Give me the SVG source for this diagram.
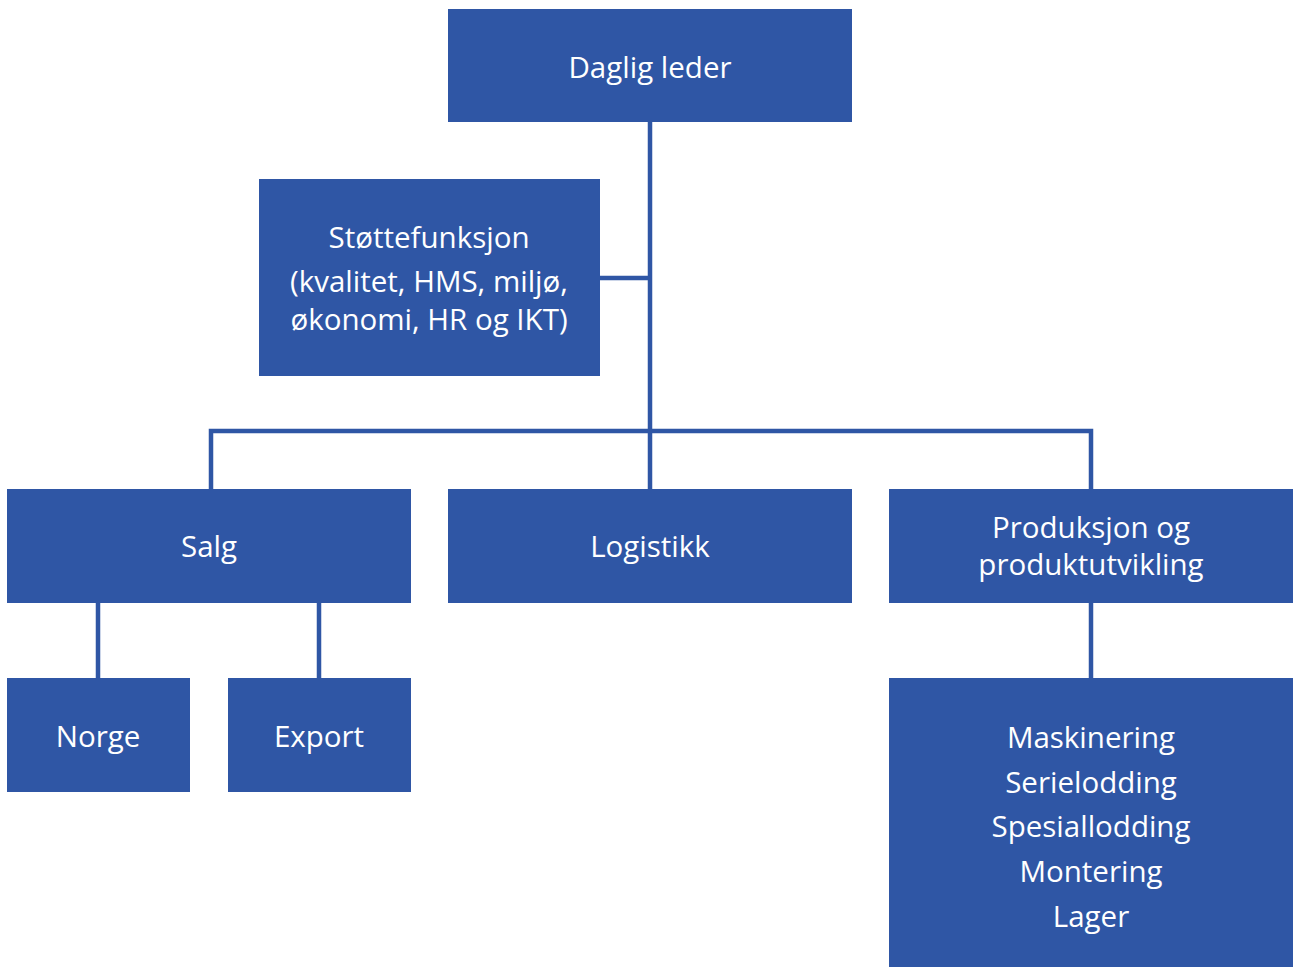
<svg xmlns="http://www.w3.org/2000/svg" width="1293" height="967" viewBox="0 0 1293 967">
<style>
.box{fill:#2F56A5}
.t{font-family:"Open Sans","Liberation Sans",sans-serif;font-size:29.5px;fill:#ffffff;text-anchor:middle}
.c{stroke:#2F56A5;stroke-width:4.5;fill:none}
</style>
<rect width="1293" height="967" fill="#ffffff"/>
<g id="connectors">
<path class="c" d="M650 122V489"/>
<path class="c" d="M600 278H650"/>
<path class="c" d="M211 489V431H1091V489"/>
<path class="c" d="M98 603V678M319 603V678"/>
<path class="c" d="M1091 603V678"/>
</g>
<g id="daglig"><rect class="box" x="448" y="9" width="404" height="113"/><text class="t" x="650" y="78">Daglig leder</text></g>
<g id="stotte"><rect class="box" x="259" y="179" width="341" height="197"/><text class="t" x="429" y="248">Støttefunksjon</text><text class="t" x="429" y="292">(kvalitet, HMS, miljø,</text><text class="t" x="429" y="330">økonomi, HR og IKT)</text></g>
<g id="salg"><rect class="box" x="7" y="489" width="404" height="114"/><text class="t" x="209" y="557">Salg</text></g>
<g id="logistikk"><rect class="box" x="448" y="489" width="404" height="114"/><text class="t" x="650" y="557">Logistikk</text></g>
<g id="produksjon"><rect class="box" x="889" y="489" width="404" height="114"/><text class="t" x="1091" y="538">Produksjon og</text><text class="t" x="1091" y="575">produktutvikling</text></g>
<g id="norge"><rect class="box" x="7" y="678" width="183" height="114"/><text class="t" x="98" y="747">Norge</text></g>
<g id="export"><rect class="box" x="228" y="678" width="183" height="114"/><text class="t" x="319" y="747">Export</text></g>
<g id="avdelinger"><rect class="box" x="889" y="678" width="404" height="289"/><text class="t" x="1091" y="748">Maskinering</text><text class="t" x="1091" y="793">Serielodding</text><text class="t" x="1091" y="837">Spesiallodding</text><text class="t" x="1091" y="882">Montering</text><text class="t" x="1091" y="927">Lager</text></g>
</svg>
